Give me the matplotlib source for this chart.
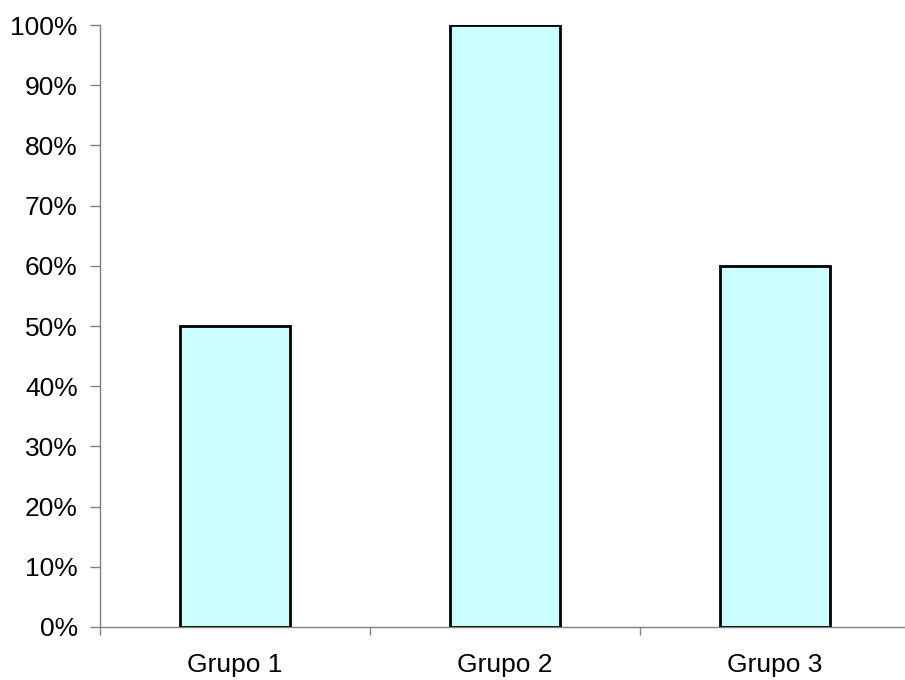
import matplotlib
matplotlib.use("Agg")
from matplotlib import pyplot as plt
from matplotlib.ticker import PercentFormatter

categories = ["Grupo 1", "Grupo 2", "Grupo 3"]
values = [50, 100, 60]
y_ticks = list(range(0, 101, 10))


def main():
    plt.rcParams["font.family"] = ["Liberation Sans", "DejaVu Sans"]
    figure = plt.figure(figsize=(9.05, 6.8), dpi=100)
    axis = figure.add_axes([100 / 905, 53 / 680, 810 / 905, 602 / 680])

    positions = list(range(len(categories)))
    axis.bar(
        positions,
        values,
        width=110 / 270,
        color="#CCFFFF",
        edgecolor="black",
        linewidth=2,
        zorder=3
    )

    axis.set_xlim(-0.5, len(categories) - 0.5)
    axis.set_ylim(0, 100)
    axis.set_yticks(y_ticks)
    axis.yaxis.set_major_formatter(PercentFormatter(decimals=0))

    axis.set_xticks(positions)
    axis.set_xticklabels(categories)
    axis.set_xticks([p + 0.5 for p in [-1] + positions], minor=True)
    axis.tick_params(axis="x", which="major", length=0, pad=19, labelsize=14)
    axis.tick_params(axis="x", which="minor", length=6, color="#808080", width=1)
    axis.tick_params(axis="y", length=7, color="#808080", width=1, labelsize=14, pad=9)
    for label in axis.get_xticklabels() + axis.get_yticklabels():
        label.set_fontsize(19)

    for side in ["top", "right"]:
        axis.spines[side].set_visible(False)
    for side in ["left", "bottom"]:
        axis.spines[side].set_color("#808080")
        axis.spines[side].set_linewidth(1)

    figure.savefig("out.png", dpi=100)


if __name__ == '__main__':
    main()
